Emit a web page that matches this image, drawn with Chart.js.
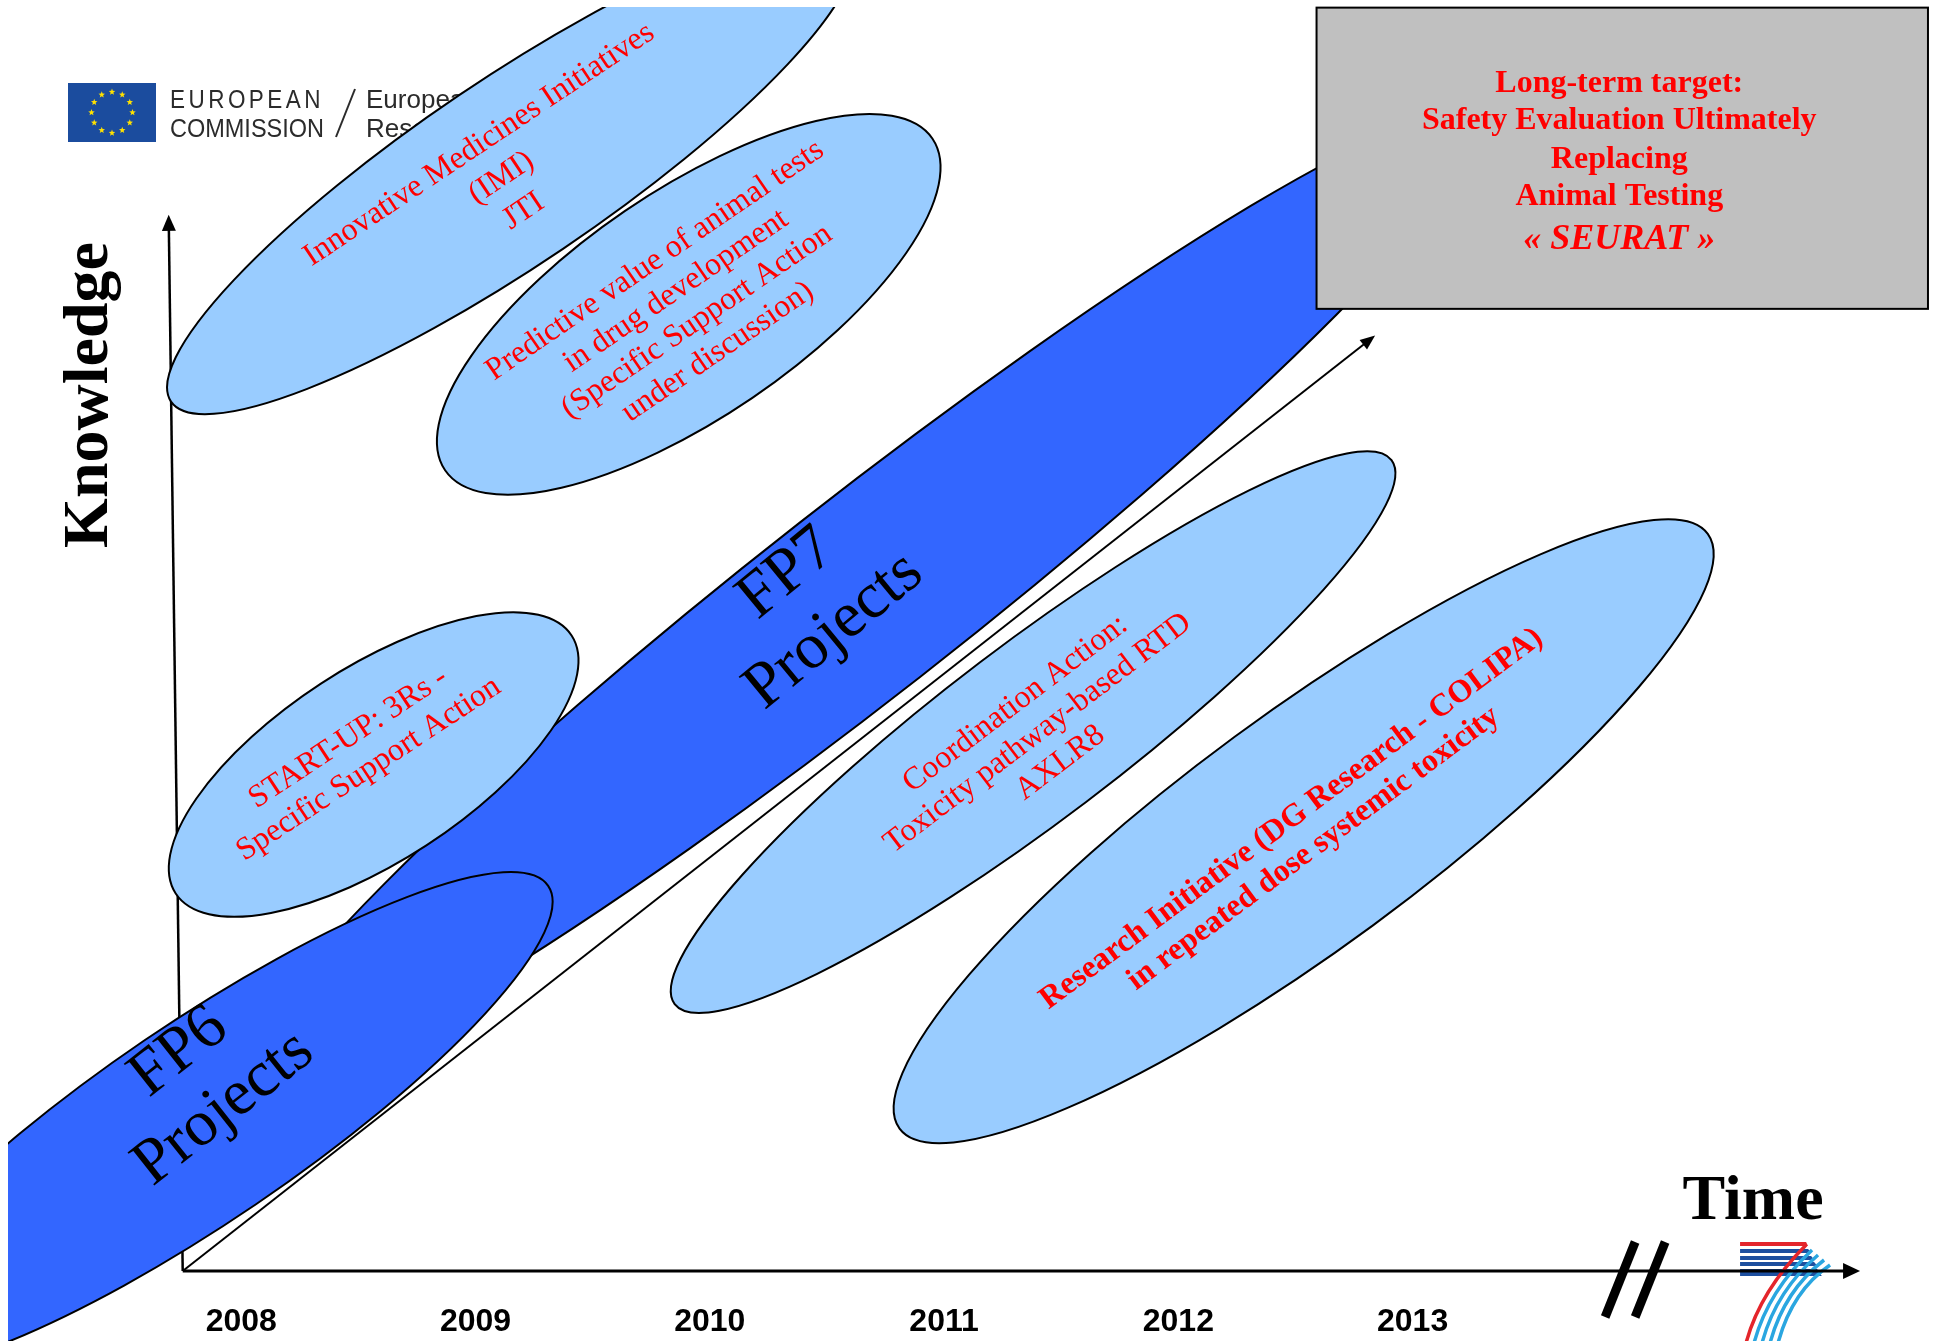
<!DOCTYPE html>
<html>
<head>
<meta charset="utf-8">
<script src="https://cdn.jsdelivr.net/npm/chart.js@4.4.0/dist/chart.umd.min.js"></script>
<style>
html,body{margin:0;padding:0;background:#fff;}
#wrap{width:1935px;height:1341px;position:relative;}
</style>
</head>
<body>
<div id="wrap"><canvas id="c"></canvas></div>
<script>
// time axis (years) and knowledge axis
const YEARS = [2008, 2009, 2010, 2011, 2012, 2013];
const TIME_RANGE = [2006.97, 2015.23];
const KNOW_RANGE = [0, 100];

// each programme / action is an ellipse running from a start point to an end point (year, knowledge)
const AREA_KIND = ['fp', 'action', 'fp', 'action', 'action', 'action', 'action'];
const AREA_START_YEAR = [2008.02, 2007.72, 2006.34, 2007.70, 2008.87, 2009.85, 2010.81];
const AREA_START_KNOW = [15.0, 29.7, -6.9, 68.4, 63.0, 21.0, 11.2];
const AREA_END_YEAR = [2013.26, 2009.41, 2009.31, 2010.60, 2010.95, 2012.91, 2014.26];
const AREA_END_KNOW = [90.6, 50.0, 30.3, 104.5, 89.1, 63.8, 58.0];
const AREA_SPREAD = [7.7, 7.6, 7.8, 7.3, 8.9, 6.9, 9.2]; // half width, in knowledge units

const LABEL_LINES = [
  ['FP7', 'Projects'],
  ['START-UP: 3Rs -', 'Specific Support Action'],
  ['FP6', 'Projects'],
  ['Innovative Medicines Initiatives', '(IMI)', 'JTI'],
  ['Predictive value of animal tests', 'in drug development', '(Specific Support Action', 'under discussion)'],
  ['Coordination Action:', 'Toxicity pathway-based RTD', 'AXLR8'],
  ['Research Initiative (DG Research - COLIPA)', 'in repeated dose systemic toxicity']
];
const LABEL_YEAR = [2010.43, 2008.50, 2007.83, 2009.11, 2009.90, 2011.40, 2012.53];
const LABEL_KNOW = [52.6, 40.7, 15.0, 86.0, 75.9, 42.3, 34.4];

// axes and arrows
const ORIGIN = [2007.75, 0];
const KNOW_AXIS_TOP = [2007.69, 83.1];
const TIME_AXIS_END = 2014.91;
const TREND_END = [2012.84, 73.6];
const TIME_BREAK = 2013.95;

// long-term target box
const TARGET_LINES = ['Long-term target:', 'Safety Evaluation Ultimately', 'Replacing', 'Animal Testing', '\u00ab SEURAT \u00bb'];
const TARGET_YEARS = [2012.59, 2015.20];
const TARGET_KNOW = [75.7, 99.4];

const SERIF = '"Liberation Serif", "Times New Roman", serif';
const SANS = '"Liberation Sans", Arial, sans-serif';
const RED = '#FF0000';

// label looks, same order as LABEL_LINES
const LABEL_STYLE = [
  {font: '65px ' + SERIF, color: '#000', tilt: 39.5, lh: 74},
  {font: '32px ' + SERIF, color: RED, tilt: 33.4, lh: 37},
  {font: '65px ' + SERIF, color: '#000', tilt: 38.5, lh: 72},
  {font: '32px ' + SERIF, color: RED, tilt: 33.7, lh: 40},
  {font: '32px ' + SERIF, color: RED, tilt: 34.4, lh: 37},
  {font: '32px ' + SERIF, color: RED, tilt: 37.2, lh: 37},
  {font: 'bold 32px ' + SERIF, color: RED, tilt: 36.6, lh: 37}
];

function px(chart, xv, yv) {
  return [chart.scales.x.getPixelForValue(xv), chart.scales.y.getPixelForValue(yv)];
}

function arrowHead(ctx, x, y, ang, len, half) {
  ctx.beginPath();
  ctx.moveTo(x, y);
  ctx.lineTo(x - len * Math.cos(ang) + half * Math.sin(ang), y - len * Math.sin(ang) - half * Math.cos(ang));
  ctx.lineTo(x - len * Math.cos(ang) - half * Math.sin(ang), y - len * Math.sin(ang) + half * Math.cos(ang));
  ctx.closePath();
  ctx.fill();
}

function arrow(ctx, x1, y1, x2, y2, w, len, half) {
  const ang = Math.atan2(y2 - y1, x2 - x1);
  ctx.lineWidth = w;
  ctx.beginPath();
  ctx.moveTo(x1, y1);
  ctx.lineTo(x2 - (len - 2) * Math.cos(ang), y2 - (len - 2) * Math.sin(ang));
  ctx.stroke();
  arrowHead(ctx, x2, y2, ang, len, half);
}

function drawArea(ctx, chart, i) {
  const [x1, y1] = px(chart, AREA_START_YEAR[i], AREA_START_KNOW[i]);
  const [x2, y2] = px(chart, AREA_END_YEAR[i], AREA_END_KNOW[i]);
  const ys = chart.scales.y;
  const b = ys.getPixelForValue(0) - ys.getPixelForValue(AREA_SPREAD[i]);
  ctx.beginPath();
  ctx.ellipse((x1 + x2) / 2, (y1 + y2) / 2, Math.hypot(x2 - x1, y2 - y1) / 2, b, Math.atan2(y2 - y1, x2 - x1), 0, Math.PI * 2);
  ctx.fillStyle = AREA_KIND[i] === 'fp' ? '#3366FF' : '#99CCFF';
  ctx.fill();
  ctx.lineWidth = 2;
  ctx.strokeStyle = '#000';
  ctx.stroke();
}

function drawLabel(ctx, chart, i) {
  const st = LABEL_STYLE[i];
  const [x, y] = px(chart, LABEL_YEAR[i], LABEL_KNOW[i]);
  const lines = LABEL_LINES[i];
  ctx.save();
  ctx.translate(x, y);
  ctx.rotate(-st.tilt * Math.PI / 180);
  ctx.font = st.font;
  ctx.fillStyle = st.color;
  ctx.textAlign = 'center';
  ctx.textBaseline = 'middle';
  lines.forEach((t, k) => ctx.fillText(t, 0, (k - (lines.length - 1) / 2) * st.lh));
  ctx.restore();
}

function fitText(ctx, t, x, y, w) {
  const m = ctx.measureText(t).width;
  ctx.save();
  ctx.translate(x, y);
  ctx.scale(w / m, 1);
  ctx.fillText(t, 0, 0);
  ctx.restore();
}

function star(ctx, x, y, r) {
  ctx.beginPath();
  for (let k = 0; k < 10; k++) {
    const rr = k % 2 ? r * 0.42 : r;
    const a = -Math.PI / 2 + k * Math.PI / 5;
    ctx.lineTo(x + rr * Math.cos(a), y + rr * Math.sin(a));
  }
  ctx.closePath();
  ctx.fill();
}

// European Commission logo, top left
function drawEcLogo(ctx) {
  ctx.fillStyle = '#1B4C9E';
  ctx.fillRect(68, 83, 88, 59);
  ctx.fillStyle = '#FFE100';
  for (let k = 0; k < 12; k++) {
    const a = k * Math.PI / 6;
    star(ctx, 112 + 20.5 * Math.cos(a), 112.5 + 20.5 * Math.sin(a), 3.4);
  }
  ctx.fillStyle = '#2b2b2b';
  ctx.font = '500 26px ' + SANS;
  ctx.textAlign = 'left';
  ctx.textBaseline = 'alphabetic';
  ctx.letterSpacing = '4px';
  fitText(ctx, 'EUROPEAN', 170, 108, 154);
  ctx.letterSpacing = '0px';
  fitText(ctx, 'COMMISSION', 170, 137, 154);
  ctx.strokeStyle = '#2b2b2b';
  ctx.lineWidth = 2;
  ctx.beginPath(); ctx.moveTo(355, 89); ctx.lineTo(336, 137); ctx.stroke();
  ctx.fillText('European', 366, 108);
  ctx.fillText('Research', 366, 137);
}

// FP7 "7" logo sitting on the end of the time axis
function drawFp7Logo(ctx, xEnd, y0) {
  const L = xEnd - 120;
  ctx.fillStyle = '#E4252B';
  ctx.beginPath();
  ctx.moveTo(L, y0 - 29); ctx.lineTo(L + 66, y0 - 29); ctx.lineTo(L + 68, y0 - 25); ctx.lineTo(L, y0 - 25); ctx.fill();
  ctx.fillStyle = '#1D4F9F';
  [[-22, 4], [-15, 4], [-9, 4], [-2, 7]].forEach(([dy, h], k) => {
    ctx.beginPath();
    ctx.moveTo(L, y0 + dy); ctx.lineTo(L + 68 + k * 3, y0 + dy); ctx.lineTo(L + 70 + k * 3 + h * 0.4, y0 + dy + h); ctx.lineTo(L, y0 + dy + h);
    ctx.fill();
  });
  ctx.lineWidth = 3.5;
  for (let k = 0; k < 5; k++) {
    ctx.strokeStyle = k === 0 ? '#E4252B' : '#2AA6E0';
    ctx.beginPath();
    ctx.moveTo(L + 66 + k * 6, y0 - 26 + k * 5);
    ctx.quadraticCurveTo(L + 20 + k * 8, y0 + 20, L + 6 + k * 8, y0 + 72);
    ctx.stroke();
  }
}

const diagram = {
  id: 'diagram',
  afterDraw(chart) {
    const ctx = chart.ctx;
    const W = chart.width, H = chart.height;
    ctx.save();

    drawEcLogo(ctx);

    const [ox, oy] = px(chart, ORIGIN[0], ORIGIN[1]);
    const [ex] = px(chart, TIME_AXIS_END, 0);
    drawFp7Logo(ctx, ex, oy);

    // axes
    ctx.fillStyle = '#000';
    ctx.strokeStyle = '#000';
    const [tx, ty] = px(chart, KNOW_AXIS_TOP[0], KNOW_AXIS_TOP[1]);
    arrow(ctx, ox, oy, tx, ty, 2.5, 16, 7);
    arrow(ctx, ox, oy, ex, oy, 3, 17, 8);
    const [dx, dy] = px(chart, TREND_END[0], TREND_END[1]);
    arrow(ctx, ox, oy, dx, dy, 2, 15, 6);

    // break marks on the time axis
    const [bx] = px(chart, TIME_BREAK, 0);
    ctx.lineWidth = 9;
    ctx.lineCap = 'butt';
    [-15, 15].forEach(o => {
      ctx.beginPath();
      ctx.moveTo(bx + o + 15, oy - 29);
      ctx.lineTo(bx + o - 15, oy + 46);
      ctx.stroke();
    });

    // ellipses, clipped to the slide
    ctx.save();
    ctx.beginPath();
    ctx.rect(8, 7, W - 16, H - 7);
    ctx.clip();
    for (let i = 0; i < AREA_KIND.length; i++) drawArea(ctx, chart, i);
    ctx.restore();
    for (let i = 0; i < LABEL_LINES.length; i++) drawLabel(ctx, chart, i);

    // long-term target box
    const [bl, bt] = px(chart, TARGET_YEARS[0], TARGET_KNOW[1]);
    const [br, bb] = px(chart, TARGET_YEARS[1], TARGET_KNOW[0]);
    ctx.fillStyle = '#C0C0C0';
    ctx.fillRect(bl, bt, br - bl, bb - bt);
    ctx.lineWidth = 2;
    ctx.strokeStyle = '#000';
    ctx.strokeRect(bl, bt, br - bl, bb - bt);
    ctx.fillStyle = RED;
    ctx.textAlign = 'center';
    ctx.textBaseline = 'alphabetic';
    const cx = (bl + br) / 2;
    const base = [84, 121, 160, 197, 241];
    TARGET_LINES.forEach((t, k) => {
      ctx.font = (k === 4 ? 'italic bold 36px ' : 'bold 32px ') + SERIF;
      ctx.fillText(t, cx - 3, bt + base[k]);
    });

    // axis titles
    ctx.fillStyle = '#000';
    ctx.font = 'bold 64px ' + SERIF;
    ctx.textAlign = 'center';
    ctx.fillText('Time', ex - 107, oy - 52);
    ctx.save();
    ctx.translate(107, 395);
    ctx.rotate(-Math.PI / 2);
    ctx.fillText('Knowledge', 0, 0);
    ctx.restore();

    ctx.restore();
  }
};

const points = AREA_START_YEAR.map((v, i) => ({x: v, y: AREA_START_KNOW[i]}))
  .concat(AREA_END_YEAR.map((v, i) => ({x: v, y: AREA_END_KNOW[i]})));

new Chart(document.getElementById('c'), {
  type: 'scatter',
  data: {datasets: [{data: points, pointRadius: 0, showLine: false}]},
  options: {
    responsive: true,
    maintainAspectRatio: false,
    animation: false,
    devicePixelRatio: 1,
    layout: {padding: 0},
    plugins: {legend: {display: false}, tooltip: {enabled: false}},
    scales: {
      x: {
        type: 'linear',
        min: TIME_RANGE[0],
        max: TIME_RANGE[1],
        afterBuildTicks: s => { s.ticks = YEARS.map(v => ({value: v})); },
        afterFit: s => { s.height = 70; },
        grid: {display: false, drawTicks: false},
        border: {display: false},
        ticks: {
          padding: 32,
          autoSkip: false,
          maxRotation: 0,
          color: '#000',
          font: {family: SANS, size: 32, weight: 'bold'},
          callback: v => String(v)
        }
      },
      y: {display: false, min: KNOW_RANGE[0], max: KNOW_RANGE[1]}
    }
  },
  plugins: [diagram]
});
</script>
</body>
</html>
